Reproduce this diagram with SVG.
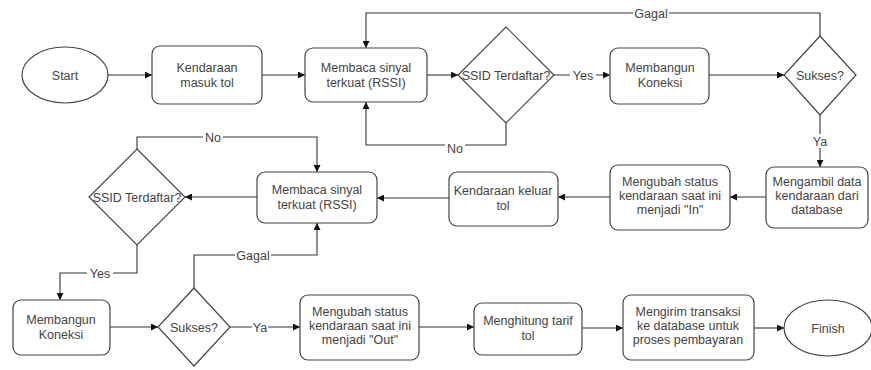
<svg xmlns="http://www.w3.org/2000/svg" width="871" height="370" viewBox="0 0 871 370">
<style>
.n{fill:#fff;stroke:#444;stroke-width:1.2}
.t{font-family:"Liberation Sans",Arial,sans-serif;font-size:12.5px;fill:#444;text-anchor:middle}
.c{fill:none;stroke:#333;stroke-width:1.1}
.lb{fill:#fff}
</style>
<defs>
<marker id="a" viewBox="0 0 10 10" refX="10" refY="5" markerWidth="7" markerHeight="7" orient="auto" markerUnits="userSpaceOnUse">
<path d="M0,0 L10,5 L0,10 Z" fill="#111"/>
</marker>
</defs>
<rect width="871" height="370" fill="#fff"/>
<g id="connectors">
<path class="c" d="M108,75 H152" marker-end="url(#a)"/>
<path class="c" d="M262,75 H305" marker-end="url(#a)"/>
<path class="c" d="M427,75 H458" marker-end="url(#a)"/>
<path class="c" d="M554,75 H610" marker-end="url(#a)"/>
<path class="c" d="M709,75 H784" marker-end="url(#a)"/>
<path class="c" d="M820,36 V13 H366 V48" marker-end="url(#a)"/>
<path class="c" d="M506,123 V145 H366 V102" marker-end="url(#a)"/>
<path class="c" d="M820,115 V167" marker-end="url(#a)"/>
<path class="c" d="M766,197 H730" marker-end="url(#a)"/>
<path class="c" d="M610,197 H558" marker-end="url(#a)"/>
<path class="c" d="M449,198 H377" marker-end="url(#a)"/>
<path class="c" d="M257,197 H185" marker-end="url(#a)"/>
<path class="c" d="M137,149 V137 H317 V172" marker-end="url(#a)"/>
<path class="c" d="M137,245 V273 H60 V300" marker-end="url(#a)"/>
<path class="c" d="M110,327 H158" marker-end="url(#a)"/>
<path class="c" d="M194,288 V255 H317 V223" marker-end="url(#a)"/>
<path class="c" d="M230,327 H300" marker-end="url(#a)"/>
<path class="c" d="M419,327 H474" marker-end="url(#a)"/>
<path class="c" d="M582,328 H623" marker-end="url(#a)"/>
<path class="c" d="M754,328 H784" marker-end="url(#a)"/>
<rect class="lb" x="570" y="68" width="26" height="14"/>
<text class="t" x="583" y="80">Yes</text>
<rect class="lb" x="633" y="6" width="36" height="14"/>
<text class="t" x="651" y="18">Gagal</text>
<rect class="lb" x="445" y="141" width="20" height="14"/>
<text class="t" x="455" y="153">No</text>
<rect class="lb" x="812" y="134" width="16" height="14"/>
<text class="t" x="820" y="146">Ya</text>
<rect class="lb" x="203" y="130" width="20" height="14"/>
<text class="t" x="213" y="142">No</text>
<rect class="lb" x="87" y="266" width="26" height="14"/>
<text class="t" x="100" y="278">Yes</text>
<rect class="lb" x="235" y="248" width="36" height="14"/>
<text class="t" x="253" y="260">Gagal</text>
<rect class="lb" x="252" y="320" width="16" height="14"/>
<text class="t" x="260" y="332">Ya</text>
</g>
<g id="start">
<ellipse class="n" cx="65" cy="75" rx="43" ry="28"/>
<text class="t" x="65" y="80">Start</text>
</g>
<g id="masuk">
<rect class="n" x="152" y="46" width="110" height="58" rx="8"/>
<text class="t" x="207" y="72">Kendaraan</text>
<text class="t" x="207" y="87">masuk tol</text>
</g>
<g id="baca1">
<rect class="n" x="305" y="48" width="122" height="54" rx="8"/>
<text class="t" x="366" y="72">Membaca sinyal</text>
<text class="t" x="366" y="87">terkuat (RSSI)</text>
</g>
<g id="ssid1">
<polygon class="n" points="506,27 554,75 506,123 458,75"/>
<text class="t" x="506" y="80">SSID Terdaftar?</text>
</g>
<g id="bangun1">
<rect class="n" x="610" y="48" width="99" height="56" rx="8"/>
<text class="t" x="660" y="72">Membangun</text>
<text class="t" x="660" y="87">Koneksi</text>
</g>
<g id="sukses1">
<polygon class="n" points="820,36 856,75 820,115 784,75"/>
<text class="t" x="820" y="80">Sukses?</text>
</g>
<g id="ambil">
<rect class="n" x="766" y="167" width="102" height="61" rx="8"/>
<text class="t" x="817" y="186">Mengambil data</text>
<text class="t" x="817" y="200">kendaraan dari</text>
<text class="t" x="817" y="214">database</text>
</g>
<g id="ubahIn">
<rect class="n" x="610" y="165" width="120" height="65" rx="8"/>
<text class="t" x="670" y="186">Mengubah status</text>
<text class="t" x="670" y="200">kendaraan saat ini</text>
<text class="t" x="670" y="214">menjadi "In"</text>
</g>
<g id="keluar">
<rect class="n" x="449" y="172" width="109" height="54" rx="8"/>
<text class="t" x="503" y="195">Kendaraan keluar</text>
<text class="t" x="503" y="210">tol</text>
</g>
<g id="baca2">
<rect class="n" x="257" y="172" width="120" height="51" rx="8"/>
<text class="t" x="317" y="194">Membaca sinyal</text>
<text class="t" x="317" y="209">terkuat (RSSI)</text>
</g>
<g id="ssid2">
<polygon class="n" points="137,149 185,197 137,245 89,197"/>
<text class="t" x="137" y="202">SSID Terdaftar?</text>
</g>
<g id="bangun2">
<rect class="n" x="13" y="300" width="97" height="55" rx="8"/>
<text class="t" x="61" y="324">Membangun</text>
<text class="t" x="61" y="339">Koneksi</text>
</g>
<g id="sukses2">
<polygon class="n" points="194,288 230,327 194,366 158,327"/>
<text class="t" x="194" y="332">Sukses?</text>
</g>
<g id="ubahOut">
<rect class="n" x="300" y="295" width="119" height="65" rx="8"/>
<text class="t" x="360" y="316">Mengubah status</text>
<text class="t" x="360" y="330">kendaraan saat ini</text>
<text class="t" x="360" y="344">menjadi "Out"</text>
</g>
<g id="hitung">
<rect class="n" x="474" y="303" width="108" height="52" rx="8"/>
<text class="t" x="528" y="325">Menghitung tarif</text>
<text class="t" x="528" y="340">tol</text>
</g>
<g id="kirim">
<rect class="n" x="623" y="295" width="131" height="65" rx="8"/>
<text class="t" x="688" y="316">Mengirim transaksi</text>
<text class="t" x="688" y="330">ke database untuk</text>
<text class="t" x="688" y="344">proses pembayaran</text>
</g>
<g id="finish">
<ellipse class="n" cx="828" cy="328" rx="44" ry="28"/>
<text class="t" x="828" y="333">Finish</text>
</g>
</svg>
